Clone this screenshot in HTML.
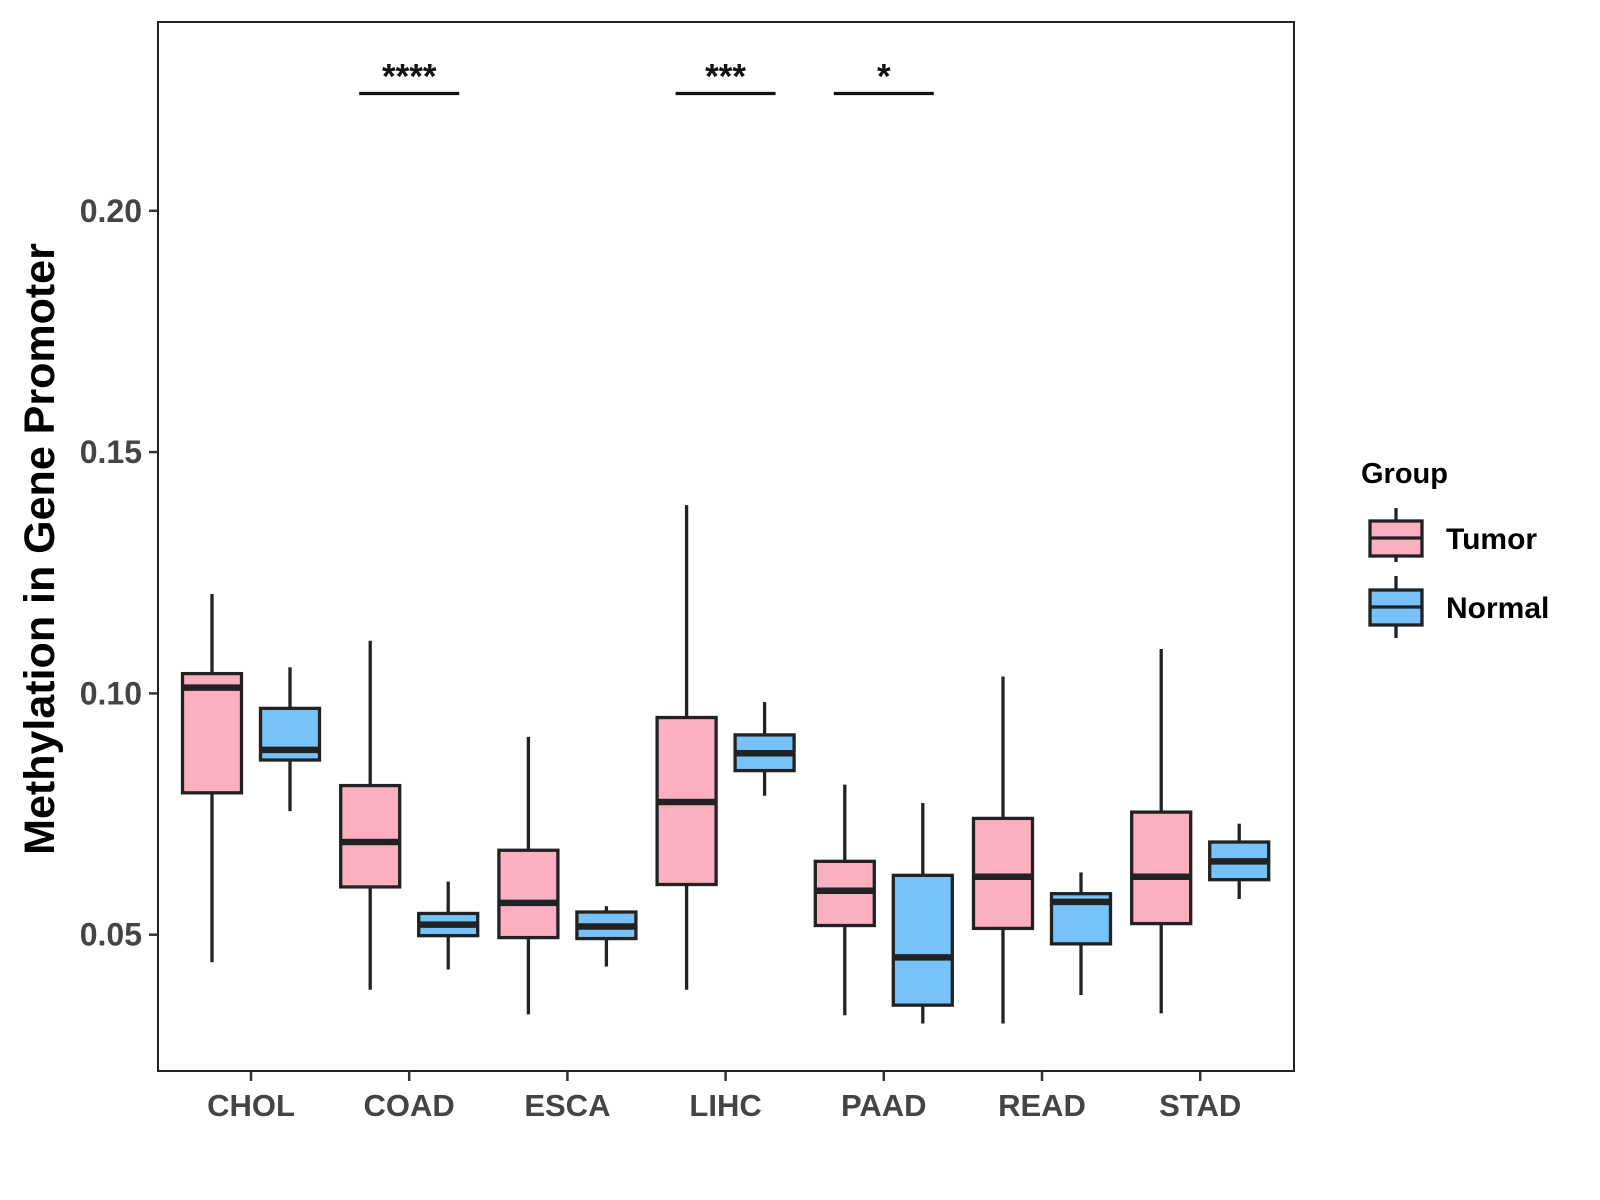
<!DOCTYPE html>
<html><head><meta charset="utf-8"><style>
body{margin:0;background:#fff;}
svg{display:block;font-family:"Liberation Sans",Arial,sans-serif;}
</style></head><body>
<svg id="chart" width="1600" height="1200" viewBox="0 0 1600 1200"></svg>
<script>
const categories=["CHOL","COAD","ESCA","LIHC","PAAD","READ","STAD"];
const tumorLow=[0.0443,0.0386,0.0335,0.0386,0.0333,0.0316,0.0337];
const tumorQ1=[0.0794,0.0599,0.0494,0.0604,0.0519,0.0513,0.0523];
const tumorMed=[0.1012,0.0692,0.0566,0.0775,0.0591,0.0620,0.0620];
const tumorQ3=[0.1041,0.0809,0.0675,0.0950,0.0652,0.0741,0.0754];
const tumorHigh=[0.1206,0.1109,0.0910,0.1390,0.0811,0.1035,0.1092];
const normalLow=[0.0756,0.0428,0.0434,0.0788,0.0316,0.0375,0.0574];
const normalQ1=[0.0862,0.0498,0.0492,0.0840,0.0354,0.0481,0.0614];
const normalMed=[0.0883,0.0521,0.0517,0.0876,0.0453,0.0568,0.0652];
const normalQ3=[0.0969,0.0544,0.0547,0.0914,0.0623,0.0585,0.0692];
const normalHigh=[0.1054,0.0610,0.0559,0.0982,0.0773,0.0629,0.0730];
const yTicks=[0.05,0.10,0.15,0.20];
const yTickLabels=["0.05","0.10","0.15","0.20"];
const sigCategories=["COAD","LIHC","PAAD"];
const sigLabels=["****","***","*"];
const sigLevel=[0.2243];

const NS="http://www.w3.org/2000/svg";
const svg=document.getElementById('chart');
const L=158,R=1294,T=22,B=1071;
function y(v){return 934.7-(v-0.05)*4826;}
function x(i){return 251+i*158.2;}
function el(tag,attrs,parent){const e=document.createElementNS(NS,tag);for(const k in attrs)e.setAttribute(k,attrs[k]);(parent||svg).appendChild(e);return e;}

const panel=el('rect',{x:L,y:T,width:R-L,height:B-T,fill:'none',stroke:'#222','stroke-width':2});



yTicks.forEach((t,i)=>{
  const ln=el('line',{x1:L-9,x2:L,y1:y(t),y2:y(t),stroke:'#333','stroke-width':2.5});
  
  
  const tx=el('text',{x:L-16,y:y(t)+11,'text-anchor':'end','font-size':32,'font-weight':'bold',fill:'#444'});
  tx.textContent=yTickLabels[i];
  
  
});
categories.forEach((c,i)=>{
  const ln=el('line',{x1:x(i),x2:x(i),y1:B,y2:B+10,stroke:'#333','stroke-width':2.5});
  
  
  const tx=el('text',{x:x(i),y:B+45,'text-anchor':'middle','font-size':31,'font-weight':'bold',fill:'#444'});
  tx.textContent=c;
  
  
});

function box(cx,lo,q1,med,q3,hi,fill,name){
  const g=el('g',{});
  
  
  const w=59;
  el('line',{x1:cx,x2:cx,y1:y(hi),y2:y(q3),stroke:'#222','stroke-width':3.3},g);
  el('line',{x1:cx,x2:cx,y1:y(q1),y2:y(lo),stroke:'#222','stroke-width':3.3},g);
  el('rect',{x:cx-w/2,y:y(q3),width:w,height:y(q1)-y(q3),fill:fill,stroke:'#222','stroke-width':3.3},g);
  el('line',{x1:cx-w/2,x2:cx+w/2,y1:y(med),y2:y(med),stroke:'#222','stroke-width':6.5},g);
}
categories.forEach((c,i)=>{
  box(x(i)-39,tumorLow[i],tumorQ1[i],tumorMed[i],tumorQ3[i],tumorHigh[i],'#FBAFC1','box-tumor-'+c.toLowerCase());
  box(x(i)+39,normalLow[i],normalQ1[i],normalMed[i],normalQ3[i],normalHigh[i],'#77C2F8','box-normal-'+c.toLowerCase());
});
sigCategories.forEach((c,k)=>{
  const i=categories.indexOf(c);
  const ln=el('line',{x1:x(i)-50,x2:x(i)+50,y1:y(sigLevel[0]),y2:y(sigLevel[0]),stroke:'#111','stroke-width':3.3});
  
  
  const tx=el('text',{x:x(i),y:y(sigLevel[0])-5,'text-anchor':'middle','font-size':35,'font-weight':'bold',fill:'#111'});
  tx.textContent=sigLabels[k];
  
  
});
</script>
<svg style="position:absolute;left:0;top:0" width="1600" height="1200">
<text x="54" y="549" transform="rotate(-90 54 549)" text-anchor="middle" font-size="43" font-weight="bold" fill="#000">Methylation in Gene Promoter</text>
<text x="1361" y="483" font-size="29" font-weight="bold" fill="#000">Group</text>
<g>
<line x1="1396" x2="1396" y1="508" y2="562" stroke="#222" stroke-width="3.3"/>
<rect x="1370" y="521" width="52" height="35" fill="#FBAFC1" stroke="#222" stroke-width="3.3"/>
<line x1="1370" x2="1422" y1="538" y2="538" stroke="#222" stroke-width="3.3"/>
<text x="1446" y="549" font-size="30" font-weight="bold" fill="#000">Tumor</text>
</g>
<g>
<line x1="1396" x2="1396" y1="576" y2="638" stroke="#222" stroke-width="3.3"/>
<rect x="1370" y="590" width="52" height="35" fill="#77C2F8" stroke="#222" stroke-width="3.3"/>
<line x1="1370" x2="1422" y1="607" y2="607" stroke="#222" stroke-width="3.3"/>
<text x="1446" y="618" font-size="30" font-weight="bold" fill="#000">Normal</text>
</g>
</svg>
</body></html>
